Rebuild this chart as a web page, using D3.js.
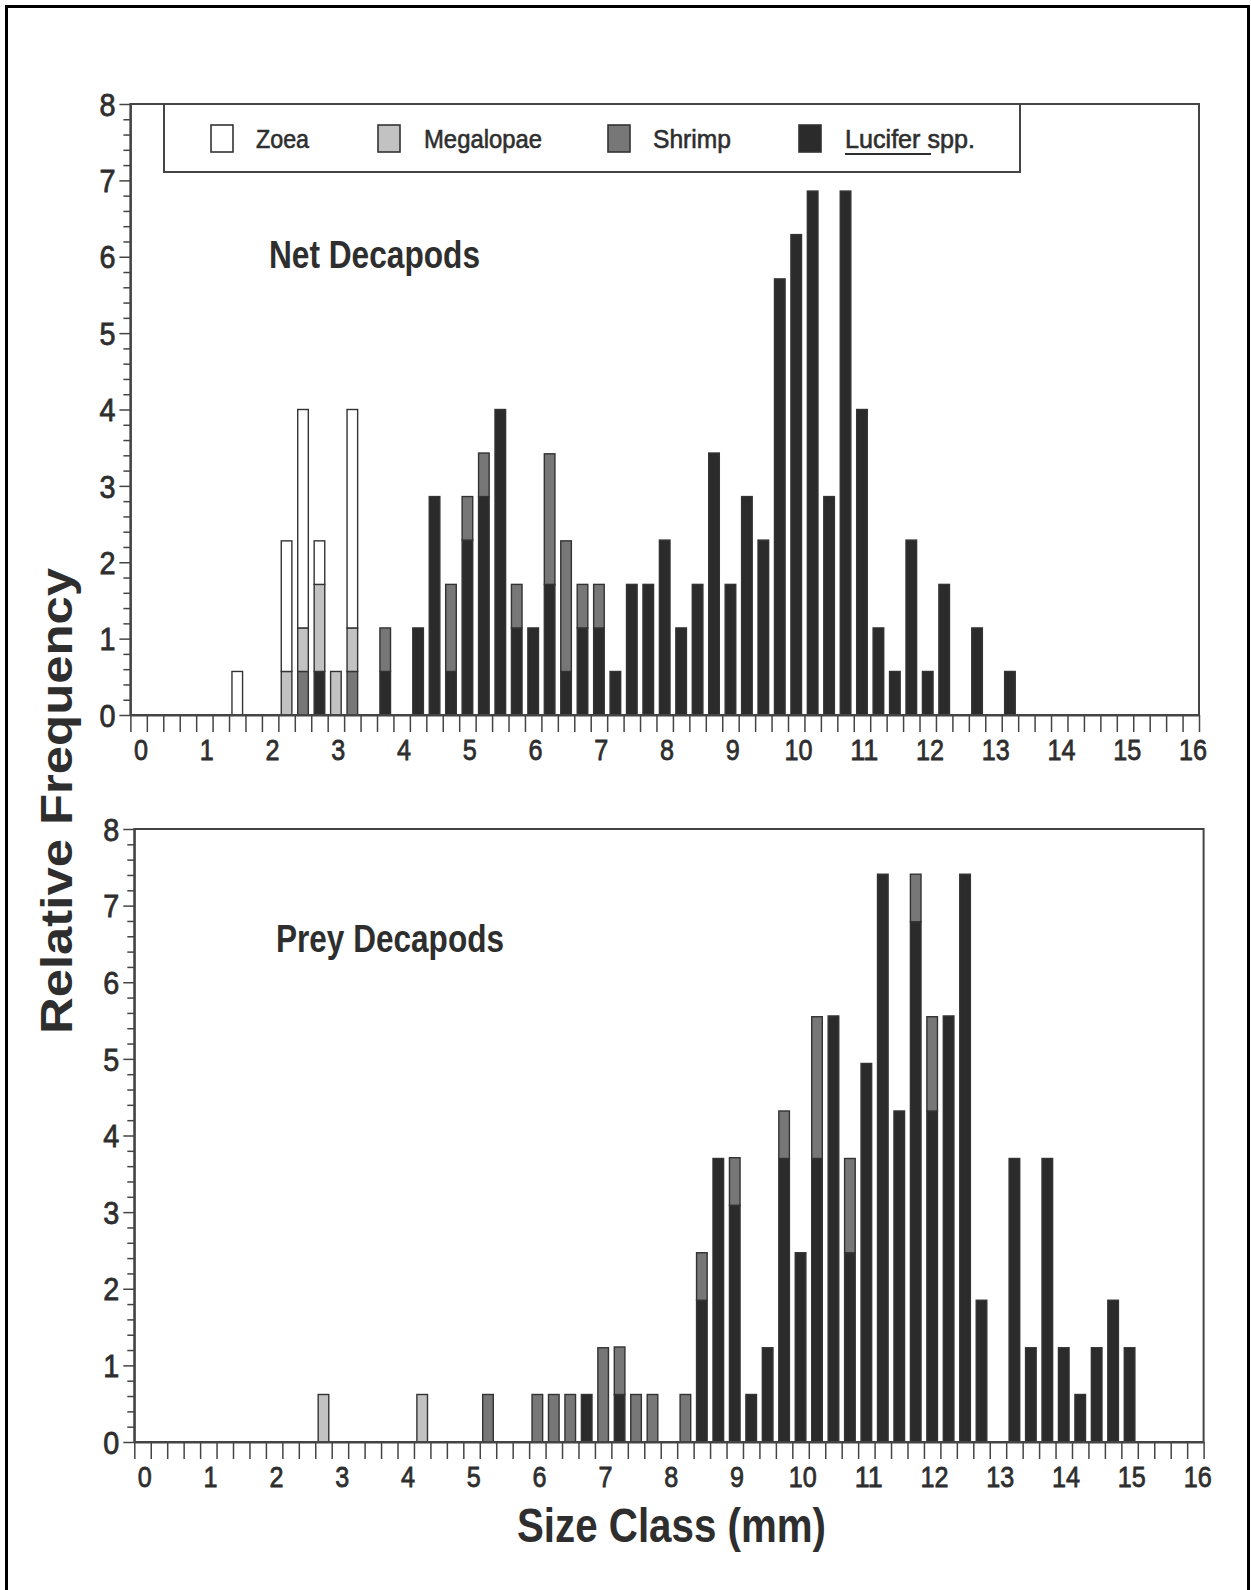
<!DOCTYPE html>
<html><head><meta charset="utf-8">
<script src="https://cdn.jsdelivr.net/npm/d3@7"></script>
<style>body{margin:0;background:#fff} svg{display:block}</style>
</head><body>
<svg id="chart" width="1251" height="1590"></svg>
<script>
// ---------- DATA ----------
const seriesNames = ["Zoea", "Megalopae", "Shrimp", "Lucifer spp."];
const xTickLabels = [0,1,2,3,4,5,6,7,8,9,10,11,12,13,14,15,16];
const yTickLabels = [0,1,2,3,4,5,6,7,8];

// Net Decapods (size class = lower edge of 0.25 mm bin)
const netBins      = [1.5,2.25,2.5,2.75,3.0,3.25,3.75,4.25,4.5,4.75,5.0,5.25,5.5,5.75,6.0,6.25,6.5,6.75,7.0,7.25,7.5,7.75,8.0,8.25,8.5,8.75,9.0,9.25,9.5,9.75,10.0,10.25,10.5,10.75,11.0,11.25,11.5,11.75,12.0,12.25,12.75,13.25];
const netLucifer   = [0,0,0,0.57,0,0,0.57,1.14,2.86,0.57,2.29,2.86,4.0,1.14,1.14,1.71,0.57,1.14,1.14,0.57,1.71,1.71,2.29,1.14,1.71,3.43,1.71,2.86,2.29,5.71,6.29,6.86,2.86,6.86,4.0,1.14,0.57,2.29,0.57,1.71,1.14,0.57];
const netShrimp    = [0,0,0.57,0,0,0.57,0.57,0,0,1.14,0.57,0.57,0,0.57,0,1.71,1.71,0.57,0.57,0,0,0,0,0,0,0,0,0,0,0,0,0,0,0,0,0,0,0,0,0,0,0];
const netMegalopae = [0,0.57,0.57,1.14,0.57,0.57,0,0,0,0,0,0,0,0,0,0,0,0,0,0,0,0,0,0,0,0,0,0,0,0,0,0,0,0,0,0,0,0,0,0,0,0];
const netZoea      = [0.57,1.71,2.86,0.57,0,2.86,0,0,0,0,0,0,0,0,0,0,0,0,0,0,0,0,0,0,0,0,0,0,0,0,0,0,0,0,0,0,0,0,0,0,0,0];

// Prey Decapods
const preyBins      = [2.75,4.25,5.25,6.0,6.25,6.5,6.75,7.0,7.25,7.5,7.75,8.25,8.5,8.75,9.0,9.25,9.5,9.75,10.0,10.25,10.5,10.75,11.0,11.25,11.5,11.75,12.0,12.25,12.5,12.75,13.25,13.5,13.75,14.0,14.25,14.5,14.75,15.0];
const preyLucifer   = [0,0,0,0,0,0,0.62,0,0.62,0,0,0,1.85,3.70,3.09,0.62,1.23,3.70,2.47,3.70,5.56,2.47,4.94,7.41,4.32,6.79,4.32,5.56,7.41,1.85,3.70,1.23,3.70,1.23,0.62,1.23,1.85,1.23];
const preyShrimp    = [0,0,0.62,0.62,0.62,0.62,0,1.23,0.62,0.62,0.62,0.62,0.62,0,0.62,0,0,0.62,0,1.85,0,1.23,0,0,0,0.62,1.23,0,0,0,0,0,0,0,0,0,0,0];
const preyMegalopae = [0.62,0.62,0,0,0,0,0,0,0,0,0,0,0,0,0,0,0,0,0,0,0,0,0,0,0,0,0,0,0,0,0,0,0,0,0,0,0,0];
const preyZoea      = preyBins.map(() => 0);

// ---------- STYLE ----------
const FONT = "'Liberation Sans', Arial, Helvetica, sans-serif";
const INK = "#2e2e2e";
const LINE = "#444";
const fills = { lucifer: "#2b2b2b", shrimp: "#777777", megalopae: "#c2c2c2", zoea: "#ffffff" };
const keys = ["lucifer", "shrimp", "megalopae", "zoea"];

const svg = d3.select("#chart");

// outer figure border
svg.append("path").attr("d", "M6.5,1600 V6.5 H1248.5 V1600")
  .attr("fill", "none").attr("stroke", "#000").attr("stroke-width", 3);

function txt(g, s, x, y, size, weight, width, anchor) {
  const t = g.append("text").attr("x", x).attr("y", y)
    .attr("font-family", FONT).attr("font-size", size).attr("font-weight", weight)
    .attr("fill", INK).attr("text-anchor", anchor || "start").text(s);
  if (width) t.attr("textLength", width).attr("lengthAdjust", "spacingAndGlyphs");
  return t;
}

function panel(cfg) {
  const x = d3.scaleLinear().domain([0, 16.25]).range([cfg.x0, cfg.x1]);
  const y = d3.scaleLinear().domain([0, 8]).range([cfg.yb, cfg.yt]);
  const g = svg.append("g");

  const rows = cfg.bins.map((b, i) => ({ bin: b, lucifer: cfg.L[i], shrimp: cfg.S[i], megalopae: cfg.M[i], zoea: cfg.Z[i] }));
  const stacked = d3.stack().keys(keys)(rows);
  const bw = 10.6;
  const bars = g.append("g");
  stacked.forEach(layer => {
    bars.selectAll(null).data(layer.filter(d => d[1] - d[0] > 0)).join("rect")
      .attr("x", d => x(d.data.bin + 0.125) - bw / 2)
      .attr("width", bw)
      .attr("y", d => y(d[1]))
      .attr("height", d => y(d[0]) - y(d[1]))
      .attr("fill", fills[layer.key])
      .attr("stroke", "#333").attr("stroke-width", 1.4);
  });

  // frame
  g.append("rect").attr("x", x(0)).attr("y", y(8)).attr("width", x(16.25) - x(0)).attr("height", y(0) - y(8))
    .attr("fill", "none").attr("stroke", LINE).attr("stroke-width", 2);

  // x axis
  const xticks = d3.range(0, 66).map(i => i * 0.25);
  const xa = g.append("g").attr("transform", `translate(0,${y(0)})`)
    .call(d3.axisBottom(x).tickValues(xticks).tickSize(17).tickSizeOuter(0)
      .tickFormat(d => xTickLabels.includes(d) ? String(d) : ""));
  xa.select(".domain").attr("stroke", LINE).attr("stroke-width", 2);
  xa.selectAll(".tick line").attr("stroke", LINE).attr("stroke-width", 1.5);
  xa.selectAll(".tick text").attr("y", 45).attr("dy", 0).attr("dx", 10)
    .attr("font-family", FONT).attr("font-size", 30).attr("fill", INK)
    .attr("stroke", INK).attr("stroke-width", 0.8)
    .each(function(d) { const s = String(d); if (xTickLabels.includes(d)) d3.select(this).attr("textLength", s.length * 14).attr("lengthAdjust", "spacingAndGlyphs"); });

  // y axis minor
  const minor = d3.range(0, 41).map(i => +(i * 0.2).toFixed(1)).filter(v => !Number.isInteger(v));
  const ym = g.append("g").attr("transform", `translate(${x(0)},0)`)
    .call(d3.axisLeft(y).tickValues(minor).tickSize(7).tickSizeOuter(0).tickFormat(""));
  ym.select(".domain").remove();
  ym.selectAll(".tick line").attr("stroke", LINE).attr("stroke-width", 1.5);
  // y axis major
  const ya = g.append("g").attr("transform", `translate(${x(0)},0)`)
    .call(d3.axisLeft(y).tickValues(yTickLabels).tickSize(11).tickPadding(4).tickSizeOuter(0).tickFormat(d => String(d)));
  ya.select(".domain").attr("stroke", LINE).attr("stroke-width", 2);
  ya.selectAll(".tick line").attr("stroke", LINE).attr("stroke-width", 1.5);
  ya.selectAll(".tick text").attr("font-family", FONT).attr("font-size", 31).attr("fill", INK)
    .attr("stroke", INK).attr("stroke-width", 0.8).attr("dy", "0.36em")
    .attr("textLength", 16).attr("lengthAdjust", "spacingAndGlyphs");

  txt(g, cfg.title, cfg.tx, cfg.ty, 38, "bold", cfg.tw);
  return { x, y, g };
}

panel({ x0: 130.4, x1: 1199, yb: 715, yt: 104, bins: netBins, L: netLucifer, S: netShrimp, M: netMegalopae, Z: netZoea,
        title: "Net Decapods", tx: 269, ty: 268, tw: 211 });
panel({ x0: 134.3, x1: 1203.6, yb: 1442, yt: 829, bins: preyBins, L: preyLucifer, S: preyShrimp, M: preyMegalopae, Z: preyZoea,
        title: "Prey Decapods", tx: 276, ty: 952, tw: 228 });

// legend
const lg = svg.append("g");
lg.append("rect").attr("x", 164).attr("y", 104).attr("width", 856).attr("height", 68)
  .attr("fill", "#fff").attr("stroke", LINE).attr("stroke-width", 2);
const legendX = [211, 378, 608, 799];
const legendTextX = [256, 424, 653, 845];
const legendW = [53, 118, 78, 130];
const legendKeys = ["zoea", "megalopae", "shrimp", "lucifer"];
seriesNames.forEach((n, i) => {
  lg.append("rect").attr("x", legendX[i]).attr("y", 125).attr("width", 22).attr("height", 27)
    .attr("fill", fills[legendKeys[i]]).attr("stroke", "#333").attr("stroke-width", 1.6);
  const t = txt(lg, n, legendTextX[i], 148, 26, "normal", legendW[i]);
  t.attr("stroke", INK).attr("stroke-width", 0.6);
});
lg.append("line").attr("x1", 845).attr("x2", 931).attr("y1", 154).attr("y2", 154)
  .attr("stroke", INK).attr("stroke-width", 2);

// axis titles
svg.append("text").attr("transform", "translate(72,801) rotate(-90)")
  .attr("text-anchor", "middle").attr("font-family", FONT).attr("font-size", 44).attr("font-weight", "bold")
  .attr("fill", INK).attr("textLength", 466).attr("lengthAdjust", "spacingAndGlyphs").text("Relative Frequency");
txt(svg, "Size Class (mm)", 671.5, 1542, 48, "bold", 309, "middle");
</script>
</body></html>
